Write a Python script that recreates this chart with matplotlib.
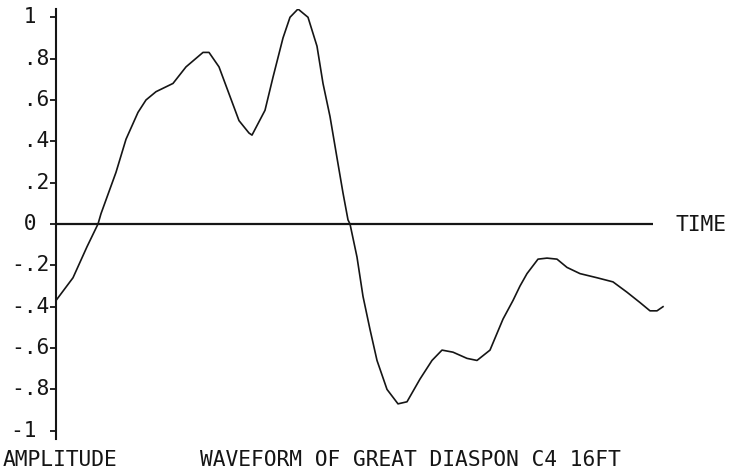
import matplotlib
matplotlib.use("Agg")
import matplotlib.pyplot as plt
from matplotlib import transforms

# --- data (time in plot units, amplitude) ---
time = [0, 17, 31, 42, 45, 60, 70, 82, 90, 100, 117, 130, 147, 153, 163, 173, 183,
        193, 196, 209, 217, 227, 234, 242, 252, 261, 267, 274, 281, 287, 292, 294,
        301, 307, 314, 321, 331, 342, 351, 364, 376, 386, 397, 411, 421, 434, 447,
        457, 464, 471, 482, 491, 501, 511, 524, 541, 557, 571, 584, 594, 601, 607]
amplitude = [-0.37, -0.26, -0.11, 0.0, 0.05, 0.25, 0.41, 0.54, 0.60, 0.64, 0.68, 0.76,
             0.83, 0.83, 0.76, 0.63, 0.50, 0.44, 0.43, 0.55, 0.71, 0.90, 1.00, 1.04,
             1.00, 0.86, 0.68, 0.52, 0.32, 0.15, 0.02, 0.0, -0.16, -0.35, -0.51,
             -0.66, -0.80, -0.87, -0.86, -0.75, -0.66, -0.61, -0.62, -0.65, -0.66,
             -0.61, -0.46, -0.37, -0.30, -0.24, -0.17, -0.165, -0.17, -0.21, -0.24,
             -0.26, -0.28, -0.33, -0.38, -0.42, -0.42, -0.40]
ytick_values = [1, 0.8, 0.6, 0.4, 0.2, 0, -0.2, -0.4, -0.6, -0.8, -1]
ytick_labels = [" 1 ", " .8", " .6", " .4", " .2", " 0 ", "-.2", "-.4", "-.6", "-.8", "-1 "]
time_axis_end = 597
title = "WAVEFORM OF GREAT DIASPON C4 16FT"
ylabel = "AMPLITUDE"
xlabel = "TIME"

W, H = 739, 470
fig = plt.figure(figsize=(W / 100, H / 100), dpi=100)
fig.patch.set_facecolor("white")
ax = fig.add_axes([56 / W, 1 - 439 / H, (665 - 56) / W, (439 - 9) / H])
ax.set_facecolor("none")
ink = "#151515"
mono = "DejaVu Sans Mono"
fs = 15.3

ax.plot(time, amplitude, color=ink, lw=1.2, solid_joinstyle="round")
ax.plot([0, time_axis_end], [0, 0], color=ink, lw=1.6, solid_capstyle="butt")

ax.set_xlim(0, 609)
ax.set_ylim(-1.04, 1.04)
for s in ["top", "right", "bottom"]:
    ax.spines[s].set_visible(False)
ax.spines["left"].set_color(ink)
ax.spines["left"].set_linewidth(1.5)
ax.set_xticks([])
ax.set_yticks(ytick_values)
ax.set_yticklabels([])
ax.tick_params(axis="y", direction="out", length=4, width=1.3, color=ink)

tr = transforms.blended_transform_factory(fig.transFigure, ax.transData)
for v, lab in zip(ytick_values, ytick_labels):
    fig.text(11 / W, v, lab, transform=tr, ha="left", va="center",
             fontsize=fs, family=mono, color=ink)

fig.text(3 / W, 1 - 460 / H, ylabel, ha="left", va="center", fontsize=fs, family=mono, color=ink)
fig.text(200 / W, 1 - 460 / H, title, ha="left", va="center", fontsize=fs, family=mono, color=ink)
fig.text(675 / W, 1 - 225 / H, xlabel, ha="left", va="center", fontsize=fs, family=mono, color=ink)

fig.savefig("out.png", dpi=100, facecolor="white")
